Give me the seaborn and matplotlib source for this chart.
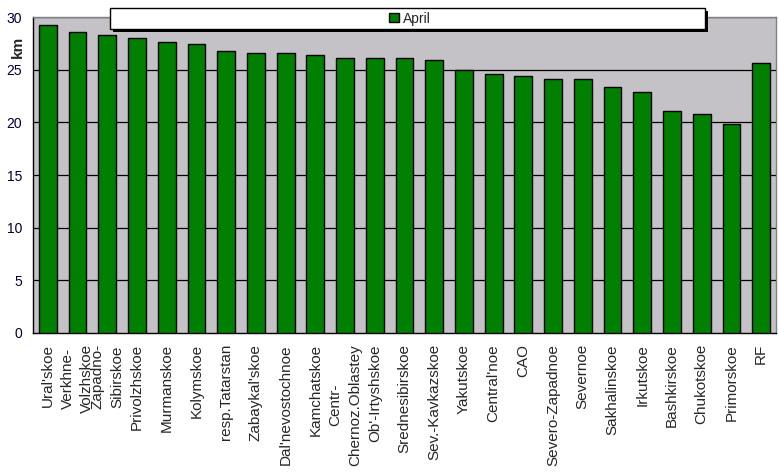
import matplotlib
matplotlib.use("Agg")
import matplotlib.pyplot as plt
import seaborn as sns
import pandas as pd
from matplotlib.patches import Rectangle

categories = ["Ural'skoe", "Verkhne-\nVolzhskoe", "Zapadno-\nSibirskoe", "Privolzhskoe",
              "Murmanskoe", "Kolymskoe", "resp.Tatarstan", "Zabaykal'skoe",
              "Dal'nevostochnoe", "Kamchatskoe", "Centr-\nChernoz.Oblastey",
              "Ob'-Irtyshskoe", "Srednesibirskoe", "Sev.-Kavkazskoe", "Yakutskoe",
              "Central'noe", "CAO", "Severo-Zapadnoe", "Severnoe", "Sakhalinskoe",
              "Irkutskoe", "Bashkirskoe", "Chukotskoe", "Primorskoe", "RF"]
april = [29.25, 28.6, 28.3, 28.0, 27.65, 27.45, 26.8, 26.6, 26.6, 26.4, 26.1,
         26.1, 26.1, 25.9, 24.93, 24.6, 24.4, 24.15, 24.15, 23.4, 22.9, 21.1,
         20.75, 19.85, 25.65]
yticks = [0, 5, 10, 15, 20, 25, 30]

sns.set_style("white")
plt.rcParams['font.family'] = ['Liberation Sans', 'DejaVu Sans']

W, H = 779, 473
fig = plt.figure(figsize=(W / 100, H / 100), dpi=100)
fig.patch.set_facecolor("white")
ax = fig.add_axes([33 / W, 1 - 333 / H, 743 / W, 316 / H])
ax.set_facecolor("#C4C2C6")

df = pd.DataFrame({"region": categories, "km": april})
sns.barplot(data=df, x="region", y="km", color="#007F00", edgecolor="black",
            linewidth=1.0, width=0.6, saturation=1, ax=ax, label="April", zorder=3)

ax.set_ylim(0, 30)
ax.set_xlim(-0.5, len(categories) - 0.5)
ax.set_yticks(yticks)
ax.set_yticklabels([str(t) for t in yticks], fontsize=10, color="#000033")
for t in yticks[1:]:
    ax.axhline(t, color="black", lw=0.9, zorder=1)

ax.set_xticks(range(len(categories)))
ax.set_xticklabels(categories, rotation=90, fontsize=11, va="top", ha="center",
                   linespacing=1.5)
ax.tick_params(axis="x", length=0, pad=8)
ax.set_xticks([i + 0.5 for i in range(-1, len(categories))], minor=True)
ax.tick_params(axis="x", which="minor", length=5, width=1, color="black", direction="out")
ax.tick_params(axis="y", length=5, width=1, color="black", direction="out", pad=3)

ax.set_xlabel("")
ax.set_ylabel("km", fontsize=11, fontweight="bold")
ax.yaxis.set_label_coords(-0.011, 0.905)

for s in ["left", "bottom"]:
    ax.spines[s].set_color("black")
    ax.spines[s].set_linewidth(1)
for s in ["top", "right"]:
    ax.spines[s].set_color("#808080")
    ax.spines[s].set_linewidth(1)

# legend box with shadow
bx, by, bw, bh = 110, 8, 595, 21
ax.add_patch(Rectangle(((bx + 3) / W, 1 - (by + bh + 3) / H), bw / W, bh / H,
                       transform=fig.transFigure, facecolor="black",
                       edgecolor="none", zorder=8, clip_on=False))
ax.add_patch(Rectangle((bx / W, 1 - (by + bh) / H), bw / W, bh / H,
                       transform=fig.transFigure, facecolor="white",
                       edgecolor="black", linewidth=1, zorder=9, clip_on=False))
leg = ax.legend(loc="center", bbox_to_anchor=(410 / W, 1 - 18.5 / H),
                bbox_transform=fig.transFigure, frameon=False, fontsize=10,
                handlelength=0.7, handleheight=0.7, handletextpad=0.3,
                borderpad=0)
leg.set_zorder(10)

fig.savefig("out.png", dpi=100)
